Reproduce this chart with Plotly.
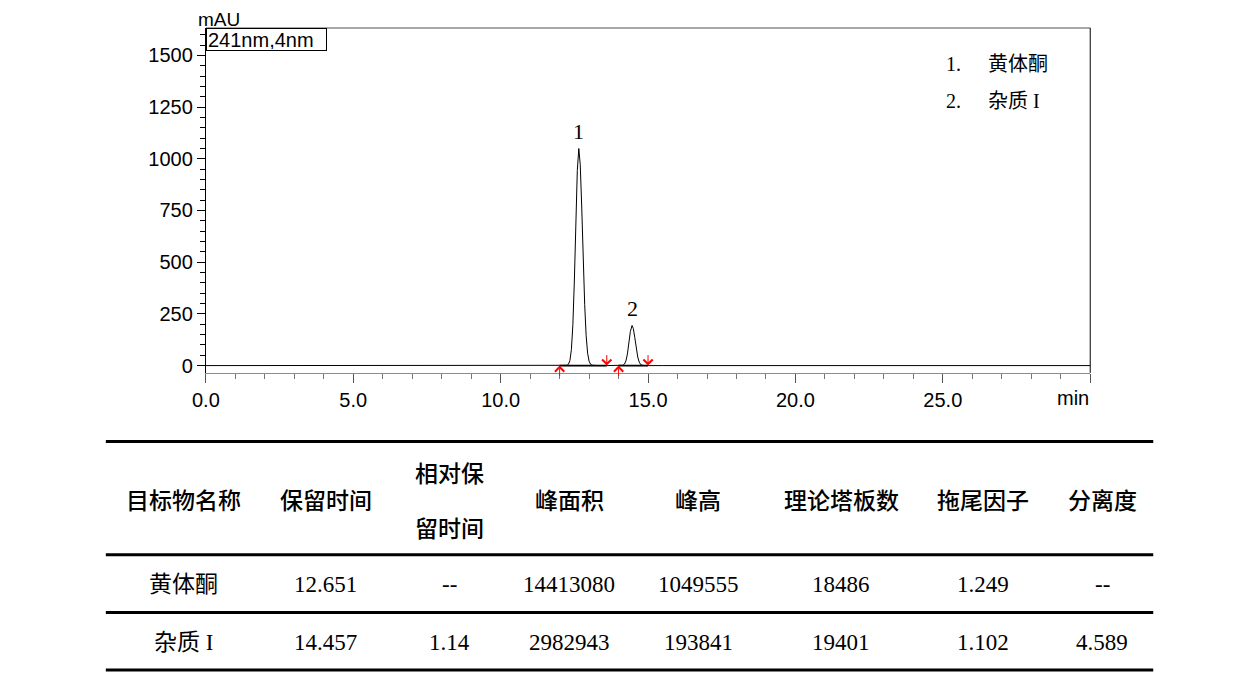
import plotly.graph_objects as go

# chromatogram trace (min, mAU)
time_min = [0.0, 2.15, 2.25, 2.35, 2.45, 6.35, 6.45, 6.55, 10.7, 10.8, 10.9, 12.0,
            12.2, 12.25, 12.3, 12.35, 12.4, 12.45, 12.5, 12.55, 12.6, 12.651, 12.7,
            12.75, 12.8, 12.85, 12.9, 12.95, 13.0, 13.05, 13.1, 13.2, 13.3, 13.6, 14.0,
            14.1, 14.15, 14.2, 14.25, 14.3, 14.35, 14.4, 14.457, 14.5, 14.55, 14.6,
            14.65, 14.7, 14.75, 14.8, 14.85, 14.95, 15.5, 30.0]
signal_mau = [0.0, 0.0, 3.5, 3.0, 0.0, 0.0, 2.5, 0.0, 0.0, 1.5, 0.0, 0.0,
              0.2, 1.4, 6.5, 24.9, 77.7, 197.7, 409.0, 689.0, 943.0, 1049.6, 972.0,
              767.0, 516.0, 296.0, 144.0, 60.0, 21.3, 6.4, 1.7, 0.1, 0.0, 0.0, 0.0,
              0.3, 1.7, 7.1, 22.7, 56.5, 109.0, 165.0, 193.8, 179.5, 135.6, 83.0,
              41.6, 16.9, 5.6, 1.5, 0.3, 0.0, 0.0, 0.0]

# integration marks (start / end of each peak, min)
peak_start = [12.0, 14.0]
peak_end = [13.6, 15.0]

# peak table
peak_no = ["1", "2"]
names = ["黄体酮", "杂质 I"]
ret_time = [12.651, 14.457]
rel_ret_time = [None, 1.14]
peak_area = [14413080, 2982943]
peak_height = [1049555, 193841]
plates = [18486, 19401]
tailing = [1.249, 1.102]
resolution = [None, 4.589]

headers = ["目标物名称", "保留时间", "相对保\n留时间", "峰面积", "峰高", "理论塔板数", "拖尾因子", "分离度"]
x_ticks = [0, 5, 10, 15, 20, 25, 30]

W, H = 1260, 678
SANS = "Liberation Sans, Arial"
SERIF = "Liberation Serif, Times New Roman, Noto Sans CJK SC"
CJK_SANS = "Noto Sans CJK SC"


# page pixel -> paper fraction (the page puts the figure a little right/down)
def fx(xp):
    return (xp - 21.2) / 0.9885 / W


def fy(yp):
    return 1 - (yp - 5) / H


def label(xp, yp, text, font, xanchor="center"):
    fig.add_annotation(xref="paper", yref="paper", x=fx(xp), y=fy(yp), text=text,
                       showarrow=False, xanchor=xanchor, yanchor="middle", font=font)


fig = go.Figure()

fig.add_trace(go.Scatter(x=time_min, y=signal_mau, mode="lines",
                         line=dict(color="black", width=1), hoverinfo="skip"))

# integration baselines
for s, e in zip(peak_start, peak_end):
    fig.add_trace(go.Scatter(x=[s, e], y=[0, 0], mode="lines",
                             line=dict(color="black", width=1.6), hoverinfo="skip"))

# red start / end arrows
for s, e in zip(peak_start, peak_end):
    fig.add_annotation(x=s, y=0, xref="x", yref="y", ax=0, ay=12, text="",
                       showarrow=True, arrowhead=4, arrowsize=1.8, arrowwidth=1, arrowcolor="red")
    fig.add_annotation(x=e, y=0, xref="x", yref="y", ax=0, ay=-12, text="",
                       showarrow=True, arrowhead=4, arrowsize=1.8, arrowwidth=1, arrowcolor="red")

# peak numbers
for n, t, h in zip(peak_no, ret_time, peak_height):
    fig.add_annotation(x=t, y=h / 1000, xref="x", yref="y", text=n, showarrow=False,
                       yanchor="bottom", yshift=3, font=dict(family=SERIF, size=22, color="black"))

# frame: grey top, black right
fig.add_shape(type="line", xref="x domain", yref="y domain", x0=0, x1=1, y0=1, y1=1,
              line=dict(color="#a8a8a8", width=2))
fig.add_shape(type="line", xref="x domain", yref="y domain", x0=1, x1=1, y0=0, y1=1,
              line=dict(color="black", width=1))

fig.add_annotation(xref="x domain", yref="y domain", x=0, y=1, xanchor="left", yanchor="top",
                   text="241nm,4nm", showarrow=False, align="left", width=117, height=19,
                   bordercolor="black", borderwidth=1, borderpad=1, bgcolor="white",
                   font=dict(family=SANS, size=20, color="black"))

axis_font = dict(family=SANS, size=20, color="black")
# y unit sits right at the top edge of the page
fig.add_annotation(xref="paper", yref="paper", x=fx(218), y=1, xanchor="center", yanchor="top",
                   text="mAU", showarrow=False, borderpad=0,
                   font=dict(family=SANS, size=19, color="black"))
label(1072, 397, "min", axis_font)

# legend text
serif20 = dict(family=SERIF, size=20, color="black")
for i, (n, name) in enumerate(zip(peak_no, names)):
    yp = 61 + 38 * i
    label(943, yp, n + ".", serif20, "left")
    label(985, yp, name, serif20, "left")

# table
col_x = [183, 325, 449, 568, 697, 840, 982, 1101]
rule_y = [441, 555, 613, 671]
header_y = 499
row_y = [585, 643]

for yp in rule_y:
    fig.add_shape(type="line", xref="paper", yref="paper", x0=fx(105), x1=fx(1152),
                  y0=fy(yp), y1=fy(yp), line=dict(color="black", width=3))

head_font = dict(family=CJK_SANS, size=23, color="black", weight=500)
for cx, htxt in zip(col_x, headers):
    lines = htxt.split("\n")
    ys = [header_y] if len(lines) == 1 else [header_y - 27, header_y + 28]
    for yp, t in zip(ys, lines):
        label(cx, yp, t, head_font)


def fmt(v, spec):
    return "--" if v is None else format(v, spec)


columns = [
    names,
    [fmt(v, ".3f") for v in ret_time],
    [fmt(v, ".2f") for v in rel_ret_time],
    [fmt(v, "d") for v in peak_area],
    [fmt(v, "d") for v in peak_height],
    [fmt(v, "d") for v in plates],
    [fmt(v, ".3f") for v in tailing],
    [fmt(v, ".3f") for v in resolution],
]
cell_font = dict(family=SERIF, size=23, color="black")
for cx, col in zip(col_x, columns):
    for yp, t in zip(row_y, col):
        label(cx, yp, t, cell_font)

fig.update_layout(
    width=W, height=H,
    margin=dict(l=0, r=0, t=0, b=0),
    paper_bgcolor="white", plot_bgcolor="white",
    showlegend=False,
    xaxis=dict(domain=[fx(205), fx(1089)], range=[0, 30], showgrid=False, zeroline=False,
               showline=True, linecolor="#8c8c8c", linewidth=1,
               ticks="outside", tickvals=x_ticks,
               ticktext=[f"{v:.1f}" for v in x_ticks[:-1]] + [""],
               ticklen=9, tickcolor="#555",
               minor=dict(ticks="outside", dtick=1, ticklen=5, tickcolor="#777"),
               tickfont=axis_font),
    yaxis=dict(domain=[fy(372), fy(25)], range=[-35, 1633], showgrid=False, zeroline=False,
               showline=True, linecolor="black", linewidth=1,
               ticks="outside", dtick=250, tick0=0, ticklen=8, tickcolor="black",
               minor=dict(ticks="outside", dtick=50, ticklen=5, tickcolor="black"),
               tickfont=axis_font),
)

fig.write_html("out.html")
